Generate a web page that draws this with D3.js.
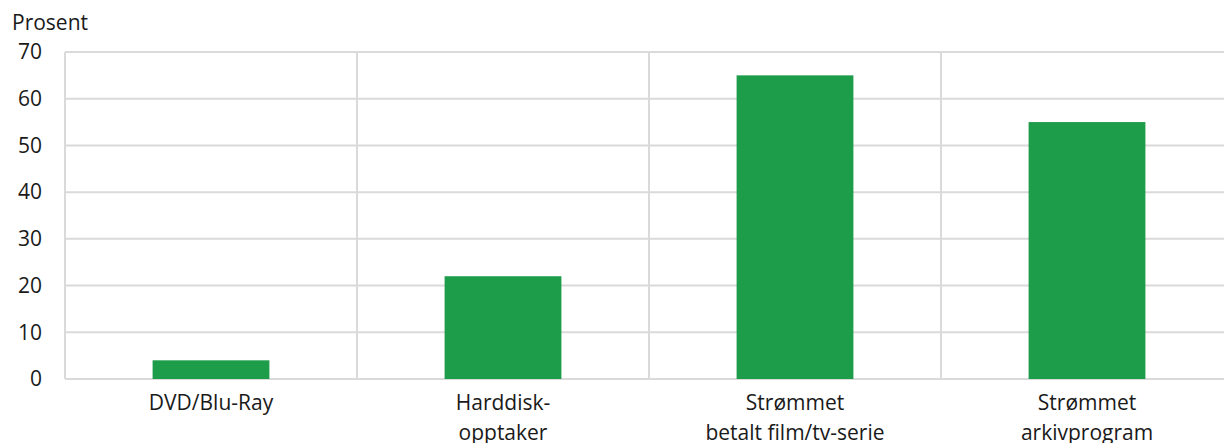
<!DOCTYPE html>
<html><head><meta charset="utf-8">
<script src="https://cdn.jsdelivr.net/npm/d3@7"></script>
<style>
html,body{margin:0;padding:0;background:#fff;}
svg{display:block;font-family:"Open Sans",sans-serif;}
</style></head>
<body>
<svg id="c" width="1224" height="443"></svg>
<script>
const categories = [["DVD/Blu-Ray"], ["Harddisk-", "opptaker"], ["Strømmet", "betalt film/tv-serie"], ["Strømmet", "arkivprogram"]];
const values = [4, 22, 65, 55];
const yTicks = [0, 10, 20, 30, 40, 50, 60, 70];
const yLabel = "Prosent";

const svg = d3.select("#c");
const mLeft = 65, mRight = 1233, mTop = 52, mBottom = 379;
const keys = categories.map((d, i) => i);
const x = d3.scaleBand().domain(keys).range([mLeft, mRight]).padding(0);
const y = d3.scaleLinear().domain([0, 70]).range([mBottom, mTop]);
const grid = "#dadada";
const fs = 21;

// horizontal gridlines
svg.append("g").selectAll("line").data(yTicks).join("line")
  .attr("x1", mLeft).attr("x2", mRight)
  .attr("y1", d => y(d)).attr("y2", d => y(d))
  .attr("stroke", grid).attr("stroke-width", 2);

// vertical gridlines at category boundaries
const bounds = keys.map(k => x(k)).concat([mRight]);
svg.append("g").selectAll("line").data(bounds).join("line")
  .attr("x1", d => d).attr("x2", d => d)
  .attr("y1", mTop).attr("y2", mBottom)
  .attr("stroke", grid).attr("stroke-width", 2);

// bars
const bw = x.bandwidth() * 0.4;
svg.append("g").selectAll("rect").data(values).join("rect")
  .attr("x", (d, i) => x(i) + x.bandwidth() / 2 - bw / 2)
  .attr("width", bw)
  .attr("y", d => y(d))
  .attr("height", d => y(0) - y(d))
  .attr("fill", "#1d9c4a");

// y tick labels
svg.append("g").selectAll("text").data(yTicks).join("text")
  .attr("x", 42).attr("y", d => y(d)).attr("dy", "0.35em")
  .attr("text-anchor", "end").attr("font-size", fs).attr("fill", "#1a1a1a")
  .text(d => d);

svg.append("text").attr("x", 12).attr("y", 30).attr("font-size", fs).attr("fill", "#1a1a1a").text(yLabel);

// x labels
const xl = svg.append("g").selectAll("text").data(categories).join("text")
  .attr("x", (d, i) => x(i) + x.bandwidth() / 2)
  .attr("y", 409.5).attr("text-anchor", "middle").attr("font-size", fs).attr("fill", "#1a1a1a");
xl.selectAll("tspan").data(d => d).join("tspan")
  .attr("x", function () { return d3.select(this.parentNode).attr("x"); })
  .attr("dy", (d, j) => j === 0 ? 0 : 30)
  .text(d => d);
</script>
</body></html>
